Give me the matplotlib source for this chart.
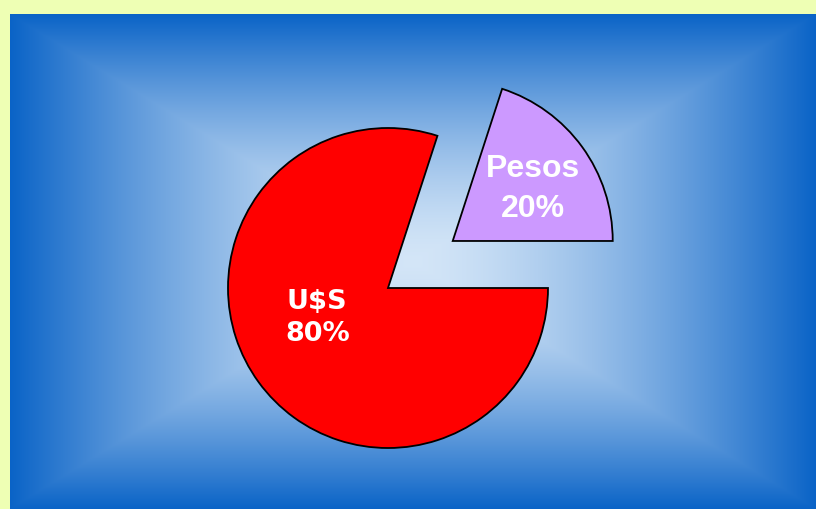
import numpy as np
from matplotlib import pyplot as plt

labels = ['Pesos', 'U$S']
shares = [20, 80]
colors = ['#cc99ff', '#ff0000']
explode = [0.5, 0.0]   # fraction of the radius

W, H = 816, 509
fig = plt.figure(figsize=(W / 100, H / 100), dpi=100)
fig.patch.set_facecolor('#eeffb4')

# blue rectangular "from center" gradient panel
bg = fig.add_axes([10 / W, 0, (W - 10) / W, (H - 14) / H])
bg.set_axis_off()
ny, nx = 400, 640
yy, xx = np.mgrid[-1:1:ny * 1j, -1:1:nx * 1j]
t = np.maximum(np.abs(xx), np.abs(yy))
c_in = np.array([0.83, 0.90, 0.97])
c_out = np.array([0.04, 0.39, 0.78])
img = c_in + (c_out - c_in) * t[..., None] ** 1.5
bg.imshow(img, aspect='auto', extent=[0, 1, 0, 1])

ax = fig.add_axes([0, 0, 1, 1])

cx, cy, r = 388, H - 288, 160
wedges, _ = ax.pie(shares, colors=colors, explode=[e * r for e in explode],
                   startangle=0, center=(cx, cy), radius=r, frame=True,
                   wedgeprops=dict(edgecolor='black', linewidth=1.3))
ax.set_xlim(0, W)
ax.set_ylim(0, H)
ax.set_axis_off()

# labels
ang = np.deg2rad(33)
ox = cx + explode[0] * r * np.cos(np.deg2rad(36))
oy = cy + explode[0] * r * np.sin(np.deg2rad(36))
ax.text(ox + 0.6 * r * np.cos(ang), oy + 0.6 * r * np.sin(ang),
        '{}\n{}%'.format(labels[0], shares[0]), ha='center', va='center',
        color='white', fontsize=23, fontweight='bold',
        family='Liberation Sans', linespacing=1.45)
ang = np.deg2rad(203)
ax.text(cx + 0.48 * r * np.cos(ang), cy + 0.48 * r * np.sin(ang),
        '{}\n{}%'.format(labels[1], shares[1]), ha='center', va='center',
        color='white', fontsize=19.5, fontweight='bold',
        family='DejaVu Sans', linespacing=1.3)

plt.savefig('out.png', dpi=100)
